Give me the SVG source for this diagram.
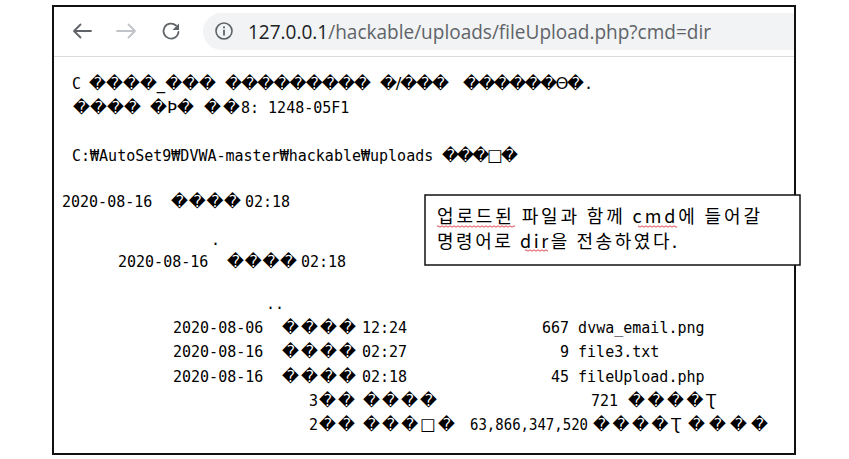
<svg xmlns="http://www.w3.org/2000/svg" width="849" height="459" viewBox="0 0 849 459">
<style>
.t{font-family:"DejaVu Sans Mono","Liberation Mono",monospace;font-size:15px;fill:#000}
.d{font-family:"DejaVu Sans","Noto Sans",sans-serif;font-size:16.5px;fill:#000}
.url{font-family:"Open Sans","Noto Sans","Liberation Sans",sans-serif;font-size:20px}
.k{font-family:"Noto Sans CJK KR","Noto Sans",sans-serif;font-size:18px;fill:#000}
.ic{fill:none;stroke-width:1.8;stroke-linecap:round;stroke-linejoin:round}
</style>
<defs>
<pattern id="wave" width="4" height="3" patternUnits="userSpaceOnUse">
<path d="M0 2.2 L2 0.8 L4 2.2" fill="none" stroke="#e03030" stroke-width="0.9"/>
</pattern>
</defs>
<rect width="849" height="459" fill="#fff"/>
<g id="browser-frame">
<rect x="53" y="6" width="742" height="448" fill="#fff" stroke="#111" stroke-width="2"/>
</g>
<g id="toolbar">
<path d="M221.5 13 H794 V50 H221.5 A18.5 18.5 0 0 1 221.5 13 Z" fill="#f1f3f4"/>
<line x1="54" y1="56.5" x2="794" y2="56.5" stroke="#dadce0" stroke-width="1"/>
<path class="ic" d="M91 31 H74 M80.5 24.5 L74 31 L80.5 37.5" stroke="#5f6368"/>
<path class="ic" d="M117 31 H135 M128.5 24.5 L135 31 L128.5 37.5" stroke="#c0c3c7"/>
<path class="ic" d="M178.5 32 A7.5 7.5 0 1 1 176 25.5" stroke="#5f6368"/>
<polygon points="172.5,30 179,30 179,23.5" fill="#5f6368"/>
<circle cx="224" cy="31" r="8" fill="none" stroke="#5f6368" stroke-width="1.6"/>
<circle cx="224" cy="27.3" r="1.1" fill="#5f6368"/>
<line x1="224" y1="29.8" x2="224" y2="35.5" stroke="#5f6368" stroke-width="1.8"/>
<text class="url" x="248" y="39" textLength="463" lengthAdjust="spacingAndGlyphs"><tspan fill="#202124">127.0.0.1</tspan><tspan fill="#5f6368">/hackable/uploads/fileUpload.php?cmd=dir</tspan></text>
</g>
<g id="output">
<text class="t" x="72" y="89">C</text>
<text class="d" x="89" y="89" textLength="127" lengthAdjust="spacing">����_���</text>
<text class="d" x="225" y="89" textLength="146" lengthAdjust="spacing">���������</text>
<text class="d" x="380" y="89" textLength="69" lengthAdjust="spacing">�/���</text>
<text class="d" x="463" y="89" textLength="121" lengthAdjust="spacing">������Θ�</text>
<text class="t" x="584" y="89">.</text>

<text class="d" x="73" y="113" textLength="68" lengthAdjust="spacing">����</text>
<text class="d" x="150" y="113" textLength="44" lengthAdjust="spacing">�Þ�</text>
<text class="d" x="204" y="113" textLength="36" lengthAdjust="spacing">��</text>
<text class="t" x="241" y="113">8: 1248-05F1</text>

<text class="t" x="72" y="161">C:₩AutoSet9₩DVWA-master₩hackable₩uploads</text>
<text class="d" x="442" y="161" textLength="76" lengthAdjust="spacing">���□�</text>

<text class="t" x="62" y="207">2020-08-16</text>
<text class="d" x="171" y="207" textLength="70" lengthAdjust="spacing">����</text>
<text class="t" x="245" y="207">02:18</text>

<text class="t" x="211" y="245">.</text>

<text class="t" x="118" y="267">2020-08-16</text>
<text class="d" x="227" y="267" textLength="70" lengthAdjust="spacing">����</text>
<text class="t" x="301" y="267">02:18</text>

<text class="t" x="266" y="309">..</text>

<text class="t" x="173" y="333">2020-08-06</text>
<text class="d" x="282" y="333" textLength="74" lengthAdjust="spacing">����</text>
<text class="t" x="362" y="333">12:24</text>
<text class="t" x="542" y="333">667 dvwa_email.png</text>

<text class="t" x="173" y="357">2020-08-16</text>
<text class="d" x="282" y="357" textLength="74" lengthAdjust="spacing">����</text>
<text class="t" x="362" y="357">02:27</text>
<text class="t" x="560" y="357">9 file3.txt</text>

<text class="t" x="173" y="382">2020-08-16</text>
<text class="d" x="282" y="382" textLength="74" lengthAdjust="spacing">����</text>
<text class="t" x="362" y="382">02:18</text>
<text class="t" x="551" y="382">45 fileUpload.php</text>

<text class="t" x="309" y="406">3</text>
<text class="d" x="319" y="406" textLength="36" lengthAdjust="spacing">��</text>
<text class="d" x="363" y="406" textLength="74" lengthAdjust="spacing">����</text>
<text class="t" x="591" y="406">721</text>
<text class="d" x="628" y="406" textLength="88" lengthAdjust="spacing">����Ʈ</text>

<text class="t" x="309" y="430">2</text>
<text class="d" x="319" y="430" textLength="36" lengthAdjust="spacing">��</text>
<text class="d" x="363" y="430" textLength="92" lengthAdjust="spacing">���□�</text>
<text class="t" x="470" y="430" textLength="118" lengthAdjust="spacingAndGlyphs">63,866,347,520</text>
<text class="d" x="593" y="430" textLength="88" lengthAdjust="spacing">����Ʈ</text>
<text class="d" x="688" y="430" textLength="80" lengthAdjust="spacing">����</text>
</g>
<g id="callout">
<rect x="425" y="195" width="375" height="70" fill="#fff" stroke="#111" stroke-width="1.5"/>
<text class="k" x="437" y="222.5" textLength="323" lengthAdjust="spacing">업로드된 파일과 함께 cmd에 들어갈</text>
<text class="k" x="437" y="248" textLength="240" lengthAdjust="spacing">명령어로 dir을 전송하였다.</text>
<rect x="437" y="225" width="78" height="3" fill="url(#wave)"/>
<rect x="638" y="225" width="39" height="3" fill="url(#wave)"/>
<rect x="525" y="249" width="23" height="3" fill="url(#wave)"/>
</g>
</svg>
